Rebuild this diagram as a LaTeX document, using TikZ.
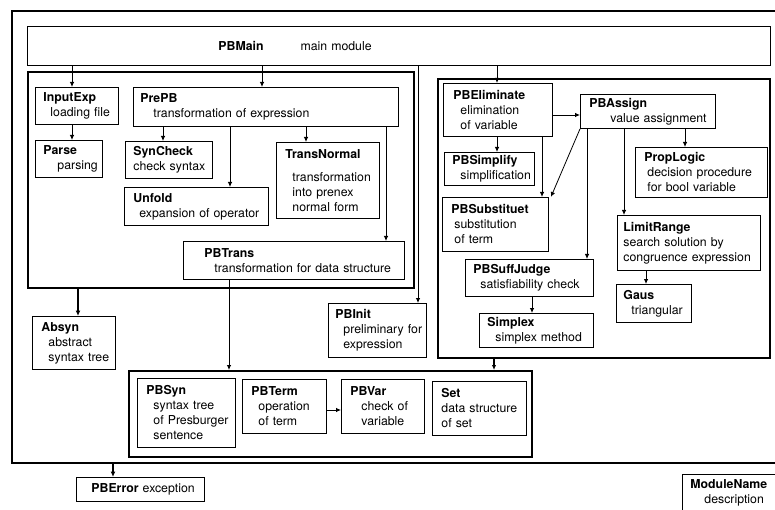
\documentclass[tikz,border=0pt]{standalone}
\usepackage{fontspec}
\setmainfont{TeX Gyre Heros}
\usetikzlibrary{arrows.meta}
\tikzset{
  box/.style 2 args={draw, line width=0.9pt, anchor=north west, inner sep=0pt,
    align=left, font=\fontsize{12.3}{15}\selectfont,
    minimum width=#1pt, minimum height=#2pt, text width=#1pt},
  frm/.style 2 args={draw, line width=1.9pt, anchor=north west, inner sep=0pt,
    minimum width=#1pt, minimum height=#2pt},
  arr/.style={-{Latex[length=5pt,width=4.5pt]}, line width=0.8pt},
  tarr/.style={-{Latex[length=5.5pt,width=5pt]}, line width=1.6pt}
}
\begin{document}
\begin{tikzpicture}[x=1pt,y=-1pt]
\useasboundingbox (0,0) rectangle (775,510);
% frames
\node[frm={780}{452}, line width=2.3pt] (outer) at (11,10) {};
\node[box={743}{39}] (PBMain) at (27,26) {\hspace*{191pt}\textbf{PBMain}\hspace{37pt}main module};
\node[frm={386}{216}] (lframe) at (27,71) {};
\node[frm={332}{279}] (rframe) at (437,78) {};
\node[frm={403}{86}] (bframe) at (128,370) {};
% left module
\node[box={83}{37}] (InputExp) at (35,87) {\hspace*{8pt}\textbf{InputExp}\\\hspace*{15pt}loading file};
\node[box={67}{37}] (Parse) at (35,140) {\hspace*{8pt}\textbf{Parse}\\\hspace*{22pt}parsing};
\node[box={265}{39}] (PrePB) at (133,87) {\hspace*{7pt}\textbf{PrePB}\\\hspace*{20pt}transformation of expression};
\node[box={87}{37}] (SynCheck) at (125,141) {\hspace*{8pt}\textbf{SynCheck}\\\hspace*{8pt}check syntax};
\node[box={144}{38}] (Unfold) at (124,187) {\hspace*{9pt}\textbf{Unfold}\\\hspace*{15pt}expansion of operator};
\node[box={103}{76}] (TransNormal) at (276,142) {\hspace*{9pt}\textbf{TransNormal}\\[8pt]\hspace*{16pt}transformation\\\hspace*{16pt}into prenex\\\hspace*{16pt}normal form};
\node[box={221}{38}] (PBTrans) at (183,241) {\hspace*{21pt}\textbf{PBTrans}\\\hspace*{31pt}transformation for data structure};
\node[box={83}{53}] (Absyn) at (32,316) {\hspace*{9pt}\textbf{Absyn}\\\hspace*{16pt}abstract\\\hspace*{16pt}syntax tree};
\node[box={98}{54}] (PBInit) at (328,303) {\hspace*{7pt}\textbf{PBInit}\\\hspace*{15pt}preliminary for\\\hspace*{15pt}expression};
% right module
\node[box={109}{53}] (PBEliminate) at (443,83) {\hspace*{10pt}\textbf{PBEliminate}\\\hspace*{17pt}elimination\\\hspace*{17pt}of variable};
\node[box={135}{34}] (PBAssign) at (580,94) {\hspace*{9pt}\textbf{PBAssign}\\\hspace*{30pt}value assignment};
\node[box={90}{33}] (PBSimplify) at (444,152) {\hspace*{8pt}\textbf{PBSimplify}\\\hspace*{16pt}simplification};
\node[box={106}{54}] (PBSubstituet) at (442,197) {\hspace*{9pt}\textbf{PBSubstituet}\\\hspace*{12pt}substitution\\\hspace*{12pt}of term};
\node[box={132}{50}] (PropLogic) at (635,147) {\hspace*{9pt}\textbf{PropLogic}\\\hspace*{12pt}decision procedure\\\hspace*{12pt}for bool variable};
\node[box={143}{55}] (LimitRange) at (617,215) {\hspace*{6pt}\textbf{LimitRange}\\\hspace*{6pt}search solution by\\\hspace*{6pt}congruence expression};
\node[box={75}{38}] (Gaus) at (616,284) {\hspace*{7pt}\textbf{Gaus}\\\hspace*{15pt}triangular};
\node[box={128}{37}] (PBSuffJudge) at (465,259) {\hspace*{8pt}\textbf{PBSuffJudge}\\\hspace*{15pt}satisfiability check};
\node[box={114}{34}] (Simplex) at (479,313) {\hspace*{8pt}\textbf{Simplex}\\\hspace*{16pt}simplex method};
% bottom module
\node[box={98}{69}] (PBSyn) at (137,378) {\hspace*{9pt}\textbf{PBSyn}\\\hspace*{16pt}syntax tree\\\hspace*{16pt}of Presburger\\\hspace*{16pt}sentence};
\node[box={84}{54}] (PBTerm) at (242,379) {\hspace*{9pt}\textbf{PBTerm}\\\hspace*{16pt}operation\\\hspace*{16pt}of term};
\node[box={83}{54}] (PBVar) at (341,379) {\hspace*{9pt}\textbf{PBVar}\\\hspace*{20pt}check of\\\hspace*{20pt}variable};
\node[box={94}{54}] (Set) at (432,381) {\hspace*{9pt}\textbf{Set}\\\hspace*{9pt}data structure\\\hspace*{9pt}of set};
% outside
\node[box={128}{24}] (PBError) at (76,477) {\hspace*{15pt}\textbf{PBError} exception};
\node[box={110}{36}] (ModuleName) at (682,474) {\hspace*{8pt}\textbf{ModuleName}\\\hspace*{22pt}description};
% connectors
\draw[arr] (PBMain.south -| 72,0) -- (InputExp.north -| 72,0);
\draw[arr] (PBMain.south -| 262,0) -- (PrePB.north -| 262,0);
\draw[arr] (PBMain.south -| 497,0) -- (PBEliminate.north -| 497,0);
\draw[arr] (PBMain.south -| 418,0) -- (PBInit.north -| 418,0);
\draw[arr] (InputExp.south -| 72,0) -- (Parse.north -| 72,0);
\draw[arr] (PrePB.south -| 163,0) -- (SynCheck.north -| 163,0);
\draw[arr] (PrePB.south -| 230,0) -- (Unfold.north -| 230,0);
\draw[arr] (PrePB.south -| 306,0) -- (TransNormal.north -| 306,0);
\draw[arr] (PrePB.south -| 386,0) -- (PBTrans.north -| 386,0);
\draw[tarr] (lframe.south -| 78,0) -- (Absyn.north -| 78,0);
\draw[arr] (PBTrans.south -| 229,0) -- (bframe.north -| 229,0);
\draw[arr] (PBEliminate.south -| 497,0) -- (PBSimplify.north -| 497,0);
\draw[arr] (PBEliminate.east |- 0,115) -- (PBAssign.west |- 0,115);
\draw[arr] (PBEliminate.south -| 542,0) -- (PBSubstituet.north -| 542,0);
\draw[arr] (PBAssign.south west) -- ([xshift=2pt]PBSubstituet.north east);
\draw[arr] (PBAssign.south -| 587,0) -- (PBSuffJudge.north -| 587,0);
\draw[arr] (PBAssign.south -| 624,0) -- (LimitRange.north -| 624,0);
\draw[arr] (PBAssign.south -| 685,0) -- (PropLogic.north -| 685,0);
\draw[arr] (LimitRange.south -| 646,0) -- (Gaus.north -| 646,0);
\draw[arr] (PBSuffJudge.south -| 532,0) -- (Simplex.north -| 532,0);
\draw[arr, line width=1.2pt] (rframe.south -| 494,0) -- (bframe.north -| 494,0);
\draw[arr] (PBTerm.east |- 0,410) -- (PBVar.west |- 0,410);
\draw[tarr] (outer.south -| 113,0) -- (PBError.north -| 113,0);
\end{tikzpicture}
\end{document}
